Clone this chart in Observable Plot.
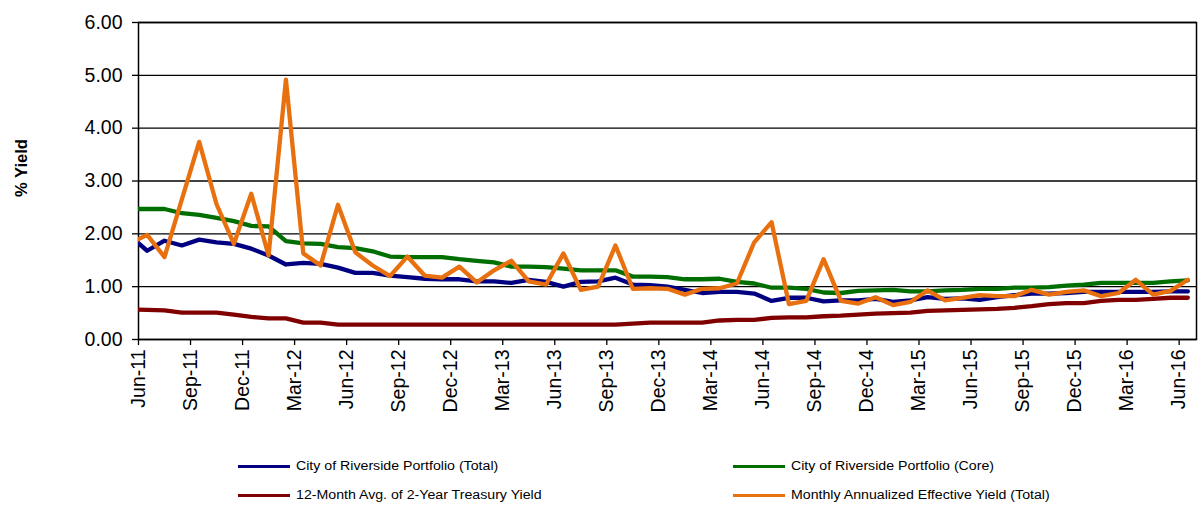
<!DOCTYPE html>
<html>
<head>
<meta charset="utf-8">
<script src="https://cdn.jsdelivr.net/npm/d3@7"></script>
<script src="https://cdn.jsdelivr.net/npm/@observablehq/plot@0.6"></script>
<style>
  html, body { margin: 0; padding: 0; background: #fff; }
  #wrap { position: relative; width: 1198px; height: 505px; font-family: Arial, "Liberation Sans", sans-serif; }
  .leg { position: absolute; font-size: 12px; color: #000; white-space: nowrap; line-height: 14px; transform: scaleX(1.18); transform-origin: 0 50%; }
  .sw { position: absolute; height: 3px; width: 52px; }
  #ylab { position: absolute; left: 21px; top: 168px; transform: translate(-50%, -50%) rotate(-90deg); font-weight: bold; font-size: 16.5px; white-space: nowrap; }
</style>
</head>
<body>
<div id="wrap">
  <div id="chart"></div>
  <div id="ylab">% Yield</div>
</div>
<script>
// Month index relative to Jun-11 (first entry is May-11, clipped by the axis minimum)
const monthIndex = d3.range(-1, 61);
const tickPositions = [0, 3, 6, 9, 12, 15, 18, 21, 24, 27, 30, 33, 36, 39, 42, 45, 48, 51, 54, 57, 60];
const tickLabels = ["Jun-11","Sep-11","Dec-11","Mar-12","Jun-12","Sep-12","Dec-12","Mar-13","Jun-13","Sep-13","Dec-13","Mar-14","Jun-14","Sep-14","Dec-14","Mar-15","Jun-15","Sep-15","Dec-15","Mar-16","Jun-16"];
const yTicks = [0, 1, 2, 3, 4, 5, 6];

const seriesNames = [
  "City of Riverside Portfolio (Total)",
  "City of Riverside Portfolio (Core)",
  "12-Month Avg. of 2-Year Treasury Yield",
  "Monthly Annualized Effective Yield (Total)"
];
const seriesColors = ["#000080", "#006E00", "#800000", "#E8700E"];

const totalYield = [1.96,
  1.68,1.87,1.78,1.89,1.84,1.81,1.72,1.59,1.42,1.45,
  1.43,1.36,1.26,1.26,1.21,1.18,1.15,1.14,1.14,1.10,
  1.10,1.07,1.13,1.09,1.00,1.09,1.10,1.17,1.04,1.03,
  1.00,0.94,0.88,0.90,0.90,0.87,0.73,0.79,0.79,0.72,
  0.74,0.74,0.77,0.71,0.74,0.80,0.77,0.78,0.75,0.80,
  0.84,0.87,0.87,0.88,0.90,0.90,0.90,0.90,0.90,0.91,0.91];
const coreYield = [2.47,
  2.47,2.47,2.39,2.36,2.30,2.24,2.15,2.14,1.86,1.82,
  1.81,1.75,1.73,1.67,1.57,1.56,1.56,1.56,1.52,1.49,
  1.46,1.38,1.38,1.37,1.34,1.31,1.31,1.31,1.19,1.19,
  1.18,1.14,1.14,1.15,1.09,1.06,0.98,0.98,0.96,0.89,
  0.88,0.92,0.93,0.94,0.91,0.91,0.93,0.94,0.96,0.96,
  0.98,0.98,0.99,1.02,1.04,1.07,1.07,1.07,1.07,1.10,1.12];
const treasuryYield = [0.57,
  0.56,0.55,0.51,0.51,0.51,0.47,0.43,0.40,0.40,0.32,
  0.32,0.28,0.28,0.28,0.28,0.28,0.28,0.28,0.28,0.28,
  0.28,0.28,0.28,0.28,0.28,0.28,0.28,0.28,0.30,0.32,
  0.32,0.32,0.32,0.36,0.37,0.37,0.41,0.42,0.42,0.44,
  0.45,0.47,0.49,0.50,0.51,0.54,0.55,0.56,0.57,0.58,
  0.60,0.63,0.67,0.69,0.69,0.73,0.75,0.75,0.77,0.79,0.79];
const monthlyYield = [1.82,
  1.98,1.56,2.65,3.74,2.56,1.81,2.76,1.59,4.92,1.63,
  1.40,2.55,1.65,1.40,1.20,1.57,1.21,1.17,1.38,1.08,
  1.31,1.49,1.10,1.04,1.63,0.94,1.00,1.78,0.96,0.97,
  0.96,0.85,0.96,0.97,1.06,1.84,2.22,0.67,0.73,1.52,
  0.73,0.68,0.80,0.65,0.71,0.93,0.74,0.79,0.84,0.82,
  0.82,0.94,0.85,0.90,0.93,0.82,0.88,1.13,0.85,0.92,1.13];

const allSeries = [totalYield, coreYield, treasuryYield, monthlyYield];
const rows = allSeries.flatMap((vals, s) =>
  vals.map((v, i) => ({series: seriesNames[s], m: monthIndex[i] + 0.5, v})));

const font = 'Arial, "Liberation Sans", sans-serif';

const chart = Plot.plot({
  width: 1198,
  height: 440,
  marginLeft: 138,
  marginRight: 2,
  marginTop: 22,
  marginBottom: 101,
  style: {fontFamily: font, background: "#fff", color: "#000"},
  x: {type: "linear", domain: [0, 61]},
  y: {domain: [0, 6]},
  marks: [
    Plot.ruleY(yTicks, {stroke: "#000", strokeWidth: 1.3}),
    Plot.frame({stroke: "#000", strokeWidth: 1.5}),
    ...allSeries.map((vals, s) =>
      Plot.line(rows.filter(r => r.series === seriesNames[s]), {
        x: "m", y: "v", stroke: seriesColors[s], strokeWidth: 4.3,
        strokeLinejoin: "round", strokeLinecap: "round", clip: true
      })),
    Plot.axisY({ticks: yTicks, tickFormat: d => d.toFixed(2), tickSize: 6, tickPadding: 10,
      fontSize: 19.5, label: null, stroke: "#000", strokeWidth: 1.3}),
    Plot.axisX({ticks: tickPositions, tickFormat: d => tickLabels[tickPositions.indexOf(d)],
      tickRotate: -90, tickSize: 6, tickPadding: 4, fontSize: 19.5, label: null,
      stroke: "#000", strokeWidth: 1.3})
  ]
});
document.getElementById("chart").appendChild(chart);

// Legend (two columns, two rows)
const legendPos = [
  {x: 238, y: 466}, {x: 733, y: 466},
  {x: 238, y: 495}, {x: 733, y: 495}
];
const wrap = document.getElementById("wrap");
seriesNames.forEach((name, i) => {
  const sw = document.createElement("div");
  sw.className = "sw";
  sw.style.left = legendPos[i].x + "px";
  sw.style.top = (legendPos[i].y - 1.5) + "px";
  sw.style.background = seriesColors[i];
  wrap.appendChild(sw);
  const t = document.createElement("div");
  t.className = "leg";
  t.textContent = name;
  t.style.left = (legendPos[i].x + 58) + "px";
  t.style.top = (legendPos[i].y - 7) + "px";
  wrap.appendChild(t);
});
</script>
</body>
</html>
